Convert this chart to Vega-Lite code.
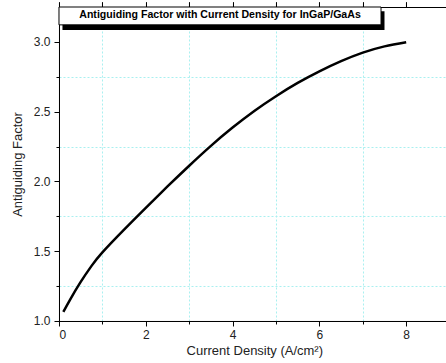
{
  "$schema": "https://vega.github.io/schema/vega-lite/v6.json",
  "autosize": "none",
  "width": 390.6,
  "height": 314,
  "padding": {"left": 59, "top": 7, "right": 0, "bottom": 42},
  "background": "white",
  "config": {
    "view": {"stroke": "black", "strokeWidth": 1},
    "font": "Liberation Sans",
    "axis": {"labelFont": "Liberation Sans", "titleFont": "Liberation Sans", "labelColor": "#222", "titleColor": "#222", "tickColor": "black", "domainColor": "black"}
  },
  "datasets": {
    "curve": [
      {"j": 0.1, "a": 1.065},
      {"j": 0.25, "a": 1.15},
      {"j": 0.5, "a": 1.28},
      {"j": 0.75, "a": 1.395},
      {"j": 1.0, "a": 1.492},
      {"j": 1.5, "a": 1.655},
      {"j": 2.0, "a": 1.811},
      {"j": 2.5, "a": 1.964},
      {"j": 3.0, "a": 2.1125},
      {"j": 3.5, "a": 2.255},
      {"j": 4.0, "a": 2.386},
      {"j": 4.5, "a": 2.505},
      {"j": 5.0, "a": 2.611},
      {"j": 5.5, "a": 2.706},
      {"j": 6.0, "a": 2.789},
      {"j": 6.5, "a": 2.862},
      {"j": 7.0, "a": 2.923},
      {"j": 7.5, "a": 2.968},
      {"j": 8.0, "a": 2.997}
    ],
    "box": [
      {"label": "Antiguiding Factor with Current Density for InGaP/GaAs", "x0": 0, "x1": 7.42, "y0": 3.122, "y1": 3.25, "sx0": 0.08, "sx1": 7.5, "sy0": 3.086, "sy1": 3.22, "tx": 3.71, "ty": 3.19}
    ]
  },
  "layer": [
    {
      "data": {"name": "curve"},
      "mark": {"type": "line", "strokeOpacity": 0},
      "encoding": {
        "x": {"field": "j", "type": "quantitative", "scale": {"domain": [0, 9], "nice": false, "zero": false},
          "axis": {"orient": "bottom", "values": [1, 3, 5, 7], "labels": false, "title": null, "tickSize": 3, "domain": false, "grid": true, "gridColor": "#a8f0f0", "gridDash": [2, 2], "gridWidth": 1}},
        "y": {"field": "a", "type": "quantitative", "scale": {"domain": [1, 3.25], "nice": false, "zero": false},
          "axis": {"orient": "left", "values": [1.25, 1.75, 2.25, 2.75], "labels": false, "title": null, "tickSize": 3, "domain": false, "grid": true, "gridColor": "#a8f0f0", "gridDash": [2, 2], "gridWidth": 1}}
      }
    },
    {
      "data": {"name": "curve"},
      "mark": {"type": "line", "color": "black", "strokeWidth": 2.5, "interpolate": "natural"},
      "encoding": {
        "x": {"field": "j", "type": "quantitative", "scale": {"domain": [0, 9], "nice": false, "zero": false},
          "axis": {"orient": "bottom", "values": [0, 2, 4, 6, 8], "format": "d", "title": "Current Density (A/cm²)", "grid": false, "tickSize": 5, "labelPadding": 4, "labelFontSize": 12, "titleFontSize": 13, "titleFontWeight": "normal", "titlePadding": 4}},
        "y": {"field": "a", "type": "quantitative", "scale": {"domain": [1, 3.25], "nice": false, "zero": false},
          "axis": {"orient": "left", "values": [1.0, 1.5, 2.0, 2.5, 3.0], "format": ".1f", "title": "Antiguiding Factor", "grid": false, "tickSize": 5, "labelPadding": 4, "labelFontSize": 12, "titleFontSize": 13, "titleFontWeight": "normal", "titlePadding": 9}}
      }
    },
    {
      "data": {"name": "box"},
      "mark": {"type": "rect", "fill": "black", "clip": false},
      "encoding": {
        "x": {"field": "sx0", "type": "quantitative"},
        "x2": {"field": "sx1"},
        "y": {"field": "sy0", "type": "quantitative"},
        "y2": {"field": "sy1"}
      }
    },
    {
      "data": {"name": "box"},
      "mark": {"type": "rect", "fill": "white", "stroke": "black", "strokeWidth": 1, "clip": false},
      "encoding": {
        "x": {"field": "x0", "type": "quantitative"},
        "x2": {"field": "x1"},
        "y": {"field": "y0", "type": "quantitative"},
        "y2": {"field": "y1"}
      }
    },
    {
      "data": {"name": "box"},
      "mark": {"type": "text", "fontWeight": "bold", "fontSize": 10.6, "color": "black", "align": "center", "baseline": "middle"},
      "encoding": {
        "x": {"field": "tx", "type": "quantitative"},
        "y": {"field": "ty", "type": "quantitative"},
        "text": {"field": "label"}
      }
    }
  ],
  "resolve": {"axis": {"x": "independent", "y": "independent"}}
}
